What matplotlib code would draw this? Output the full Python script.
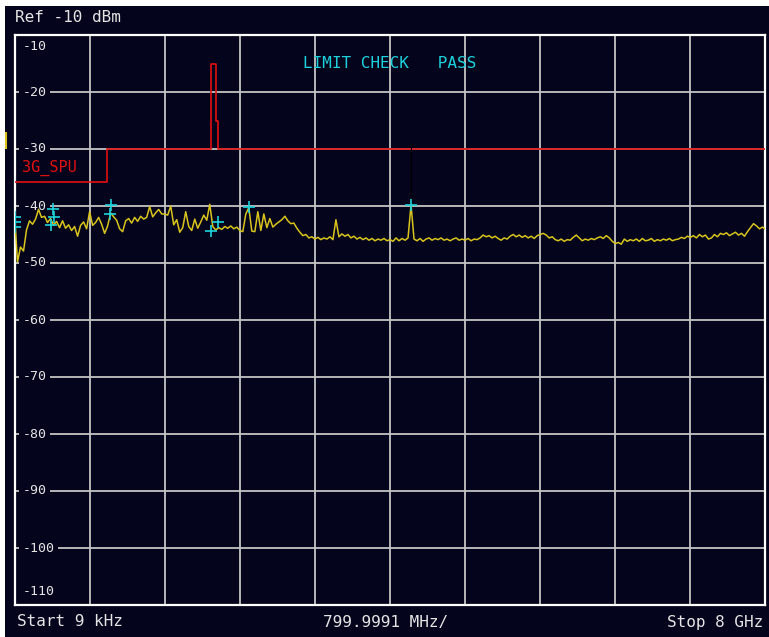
import matplotlib
matplotlib.use("Agg")
import matplotlib.pyplot as plt
import numpy as np
from matplotlib.lines import Line2D
from matplotlib.patches import Rectangle

# sweep levels in dBm, 251 points from 9 kHz to 8 GHz
level = [
    -41.4, -49.8, -47.2, -47.9, -44.2, -42.6, -43.2, -42.3, -40.6, -42.0,
    -41.8, -42.9, -42.2, -43.4, -42.7, -43.8, -42.6, -43.9, -43.3, -44.3,
    -43.6, -45.3, -43.4, -42.8, -44.0,
    -41.0, -43.4, -42.9, -42.0, -43.2, -44.8, -43.5, -41.2, -41.9, -42.5,
    -44.0, -44.5, -42.6, -42.2, -43.0, -42.0, -42.7, -41.8, -42.3, -42.0,
    -40.1, -41.9, -41.2, -40.6, -41.4,
    -41.4, -41.6, -40.0, -43.3, -42.4, -44.6, -43.8, -41.0, -43.6, -44.3,
    -42.3, -43.9, -42.8, -41.6, -42.5, -39.7, -43.6, -44.2, -43.8, -44.1,
    -43.6, -43.9, -43.5, -44.0, -43.7,
    -44.3, -44.5, -41.4, -40.3, -44.4, -44.5, -41.0, -44.3, -41.4, -43.8,
    -42.2, -43.7, -43.2, -42.8, -42.4, -41.8, -42.6, -43.1, -43.0, -43.9,
    -44.6, -45.2, -45.0, -45.6, -45.4,
    -45.8, -45.5, -45.9, -45.6, -45.8, -45.4, -45.9, -42.4, -45.4, -44.9,
    -45.3, -45.0, -45.6, -45.3, -45.8, -45.5, -45.9, -45.6, -46.0, -45.7,
    -46.1, -45.8, -46.0, -45.7, -46.1,
    -45.9, -46.2, -45.6, -46.1, -45.7, -46.0, -45.6, -39.8, -45.8, -46.1,
    -45.7, -46.2, -45.8, -45.6, -46.0, -45.7, -45.9, -45.6, -46.0, -45.8,
    -46.1, -45.8, -45.6, -46.0, -45.8,
    -46.0, -45.7, -46.1, -45.8, -45.9, -45.6, -45.1, -45.4, -45.2, -45.6,
    -45.3, -45.7, -46.0, -45.6, -45.8, -45.3, -45.0, -45.4, -45.1, -45.5,
    -45.2, -45.6, -45.3, -45.7, -45.2,
    -45.0, -44.8, -45.1, -45.6, -45.4, -45.9, -46.1, -45.8, -46.2, -45.9,
    -46.0, -45.5, -45.1, -45.6, -46.1, -45.8, -46.0, -45.7, -45.9, -45.6,
    -45.4, -45.7, -45.2, -45.6, -46.2,
    -46.6, -46.4, -46.7, -45.8, -46.2, -45.9, -46.1, -45.8, -46.2, -45.7,
    -46.1, -46.0, -45.7, -46.2, -45.9, -46.1, -45.8, -46.0, -45.7, -46.1,
    -45.9, -45.8, -45.5, -45.7, -45.3,
    -45.5, -45.2, -45.6, -45.0, -45.4, -45.1, -45.8, -45.6, -45.0, -45.4,
    -44.8, -45.0, -44.7, -45.2, -44.9, -44.6, -45.1, -44.8, -45.3, -44.5,
    -43.8, -43.1, -43.5, -44.0, -43.7, -44.1,
]
freq = np.linspace(0.009, 8000, len(level))  # MHz

# limit line 3G_SPU
limit_freq = [0.009, 990, 990, 2090, 2090, 2150, 2150, 2170, 2170, 8000]
limit_level = [-35.8, -35.8, -30, -30, -15, -15, -25, -25, -30, -30]

# peak markers
marker_freq = [0, 0, 0, 405, 420, 385, 1024, 1020, 2091, 2169, 2496, 4224]
marker_level = [-41.9, -42.8, -43.7, -40.5, -41.9, -43.3, -39.8, -41.4,
                -44.3, -42.8, -40.1, -39.8]

y_ticks = [-10, -20, -30, -40, -50, -60, -70, -80, -90, -100, -110]

bg = '#04041c'
grid_c = '#c4c4c4'
txt_c = '#e4e4e4'
yellow = '#d8c41c'
red = '#e01010'
cyan = '#1ed2dc'
mono = 'DejaVu Sans Mono'

W, H = 769, 637
fig = plt.figure(figsize=(W / 100, H / 100), dpi=100)
fig.patch.set_facecolor('white')
fig.add_artist(Rectangle((5 / W, 0), 1 - 5 / W, 1 - 6 / H,
                         transform=fig.transFigure, fc=bg, ec='none', zorder=0))

ax = fig.add_axes([14.5 / W, (H - 605) / H, 751 / W, 570 / H])
ax.set_facecolor(bg)
ax.set_xlim(0, 8000)
ax.set_ylim(-110, -10)
ax.set_xticks(np.arange(0, 8001, 800))
ax.set_yticks(y_ticks)
ax.tick_params(left=False, bottom=False, labelleft=False, labelbottom=False)
ax.grid(True, color=grid_c, lw=1.3, zorder=1)
ax.set_axisbelow(True)
for s in ax.spines.values():
    s.set_color('white')
    s.set_linewidth(1.6)

# y labels drawn inside the plot, breaking the grid lines
yt = ax.get_yaxis_transform()
for v in y_ticks:
    if v == -10:
        ax.text(0.0105, v - 2.1, '-10', transform=yt, color=txt_c, fontsize=9.5,
                family=mono, va='center', ha='left', zorder=2.5)
    elif v == -110:
        ax.text(0.0105, v + 2.3, '-110', transform=yt, color=txt_c, fontsize=9.5,
                family=mono, va='center', ha='left', zorder=2.5)
    else:
        ax.text(0.0105, v, str(v), transform=yt, color=txt_c, fontsize=9.5,
                family=mono, va='center', ha='left', zorder=2.5,
                bbox=dict(boxstyle='square,pad=0.25', fc=bg, ec='none'))

ax.plot(freq, level, color=yellow, lw=1.1, zorder=3)
ax.plot(limit_freq, limit_level, color=red, lw=1.2, zorder=3.5)
ax.plot([4224, 4224], [-39.8, -29.1], color='black', lw=0.8, zorder=3.6)
ax.plot(marker_freq, marker_level, ls='none', marker='+', ms=8, mew=1.2,
        color=cyan, zorder=4)

ax.text(80, -33.4, '3G_SPU', color=red, fontsize=11, family=mono,
        va='center', ha='left', zorder=3)

# header / footer text
fig.text(15 / W, 1 - 18 / H, 'Ref -10 dBm', color=txt_c, fontsize=11.5,
         family=mono, va='center', ha='left')
fig.text(303 / W, 1 - 64 / H, 'LIMIT CHECK   PASS', color=cyan, fontsize=11.5,
         family=mono, va='center', ha='left')
fig.text(17 / W, 1 - 622 / H, 'Start 9 kHz', color=txt_c, fontsize=11.5,
         family=mono, va='center', ha='left')
fig.text(386 / W, 1 - 622 / H, '799.9991 MHz/', color=txt_c, fontsize=11.5,
         family=mono, va='center', ha='center')
fig.text(763 / W, 1 - 622 / H, 'Stop 8 GHz', color=txt_c, fontsize=11.5,
         family=mono, va='center', ha='right')

# little trace indicator left of the frame
fig.add_artist(Line2D([5.5 / W, 5.5 / W], [1 - 133 / H, 1 - 148 / H],
                      transform=fig.transFigure, color=yellow, lw=1.5))

fig.savefig('out.png', dpi=100, facecolor=fig.get_facecolor())
